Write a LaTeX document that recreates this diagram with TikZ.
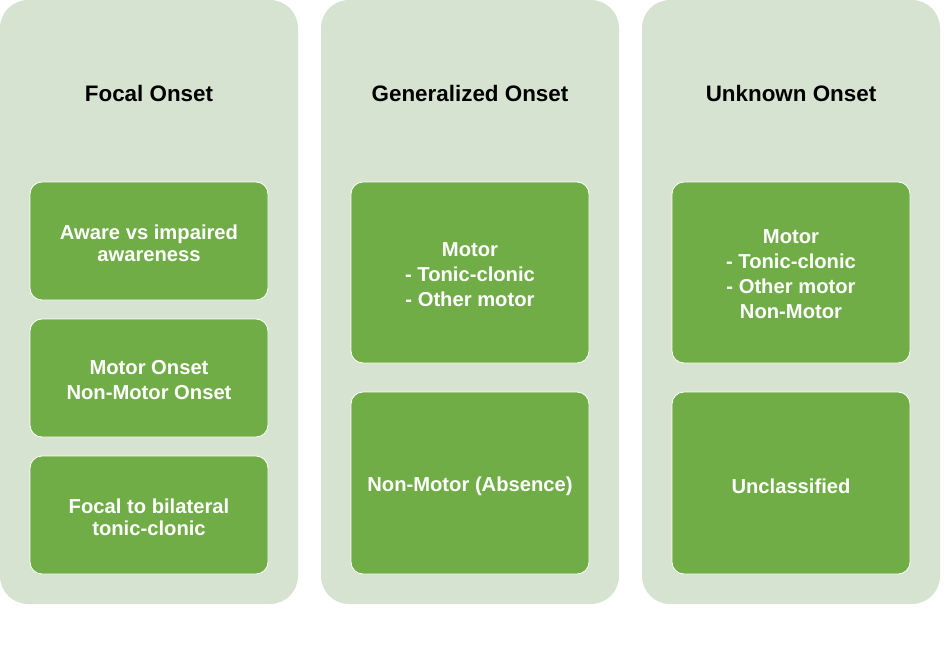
\documentclass[tikz,border=0pt]{standalone}
\usepackage{fontspec}
\setmainfont{Liberation Sans}
\definecolor{panelbg}{HTML}{D6E3D0}
\definecolor{boxgreen}{HTML}{70AD47}
\begin{document}
\begin{tikzpicture}[x=1pt,y=-1pt,
  panel/.style={fill=panelbg, draw=none, rounded corners=28pt, minimum width=298pt, minimum height=604pt, inner sep=0pt},
  ptitle/.style={font=\fontsize{22.4}{26}\selectfont\bfseries, text=black, align=center},
  gbox/.style={fill=boxgreen, draw=white, line width=0.8pt, rounded corners=12pt, minimum width=238pt, inner sep=0pt},
  btext/.style={align=center, text=white, inner sep=0pt, font=\fontsize{20.2}{25}\selectfont\bfseries},
  btextw/.style={btext, font=\fontsize{20.2}{22}\selectfont\bfseries},
]
\useasboundingbox (0,0) rectangle (947,669);
\node[panel] (p1) at (149,302) {};
\node[panel] (p2) at (470,302) {};
\node[panel] (p3) at (791,302) {};
\node[ptitle] (t1) at (149,93) {Focal Onset};
\node[ptitle] (t2) at (470,93) {Generalized Onset};
\node[ptitle] (t3) at (791,93) {Unknown Onset};
\node[gbox, minimum height=118pt] (a1) at (149,241) {};
\node[gbox, minimum height=118pt] (a2) at (149,378) {};
\node[gbox, minimum height=118pt] (a3) at (149,515) {};
\node[gbox, minimum height=181pt] (b1) at (470,272.5) {};
\node[gbox, minimum height=182pt] (b2) at (470,483) {};
\node[gbox, minimum height=181pt] (c1) at (791,272.5) {};
\node[gbox, minimum height=182pt] (c2) at (791,483) {};
\node[btextw] (a1t) at ([yshift=-2pt]a1.center) {Aware vs impaired\\awareness};
\node[btext] (a2t) at ([yshift=-2pt]a2.center) {Motor Onset\\Non-Motor Onset};
\node[btextw] (a3t) at ([yshift=-2pt]a3.center) {Focal to bilateral\\tonic-clonic};
\node[btext] (b1t) at ([yshift=-2pt]b1.center) {Motor\\- Tonic-clonic\\- Other motor};
\node[btext] (b2t) at ([yshift=-3pt]b2.center) {Non-Motor (Absence)};
\node[btext] (c1t) at ([yshift=-2pt]c1.center) {Motor\\- Tonic-clonic\\- Other motor\\Non-Motor};
\node[btext] (c2t) at ([yshift=-3pt]c2.center) {Unclassified};
\end{tikzpicture}
\end{document}
